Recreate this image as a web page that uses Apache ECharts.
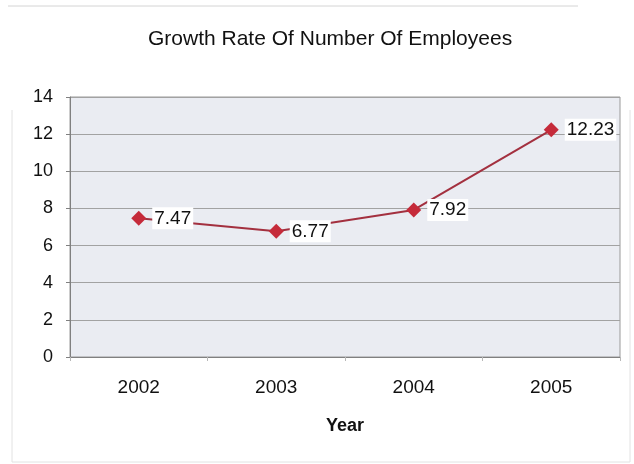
<!DOCTYPE html>
<html>
<head>
<meta charset="utf-8">
<script src="https://cdn.jsdelivr.net/npm/echarts@6/dist/echarts.min.js"></script>
<style>
  html, body { margin: 0; padding: 0; background: #ffffff; }
  #chart { width: 634px; height: 464px; }
</style>
</head>
<body>
<div id="chart"></div>
<script>
// Employee headcount growth rate by year (%)
const years = ['2002', '2003', '2004', '2005'];
const growthRate = [7.47, 6.77, 7.92, 12.23];
const yTicks = { min: 0, max: 14, interval: 2 };

const chart = echarts.init(document.getElementById('chart'), null, { renderer: 'canvas' });

const frame = { stroke: '#e2e2e2', lineWidth: 1 };

chart.setOption({
  backgroundColor: '#ffffff',
  animation: false,
  textStyle: { fontFamily: 'Liberation Sans, Arial, sans-serif' },
  title: {
    text: 'Growth Rate Of Number Of Employees',
    left: 143,
    top: 24,
    textStyle: { fontSize: 21, fontWeight: 'normal', color: '#111111' }
  },
  graphic: [
    { type: 'line', shape: { x1: 8, y1: 6, x2: 578, y2: 6 }, style: { stroke: '#d4d4d4', lineWidth: 1 }, silent: true },
    { type: 'line', shape: { x1: 12, y1: 110, x2: 12, y2: 462 }, style: frame, silent: true },
    { type: 'line', shape: { x1: 630, y1: 110, x2: 630, y2: 462 }, style: frame, silent: true },
    { type: 'line', shape: { x1: 12, y1: 462, x2: 630, y2: 462 }, style: frame, silent: true }
  ],
  grid: {
    left: 70, right: 14, top: 97, bottom: 107,
    show: true,
    backgroundColor: '#eaecf2',
    borderColor: '#9a9a9a',
    borderWidth: 1
  },
  xAxis: {
    type: 'category',
    data: years,
    boundaryGap: true,
    name: 'Year',
    nameLocation: 'middle',
    nameGap: 60,
    nameTextStyle: { fontSize: 18, fontWeight: 'bold', color: '#111111', verticalAlign: 'top' },
    axisLine: { lineStyle: { color: '#808080' } },
    axisTick: { show: true, length: 4, lineStyle: { color: '#b8b8b8' } },
    axisLabel: { fontSize: 19, color: '#111111', margin: 21 }
  },
  yAxis: {
    type: 'value',
    min: yTicks.min,
    max: yTicks.max,
    interval: yTicks.interval,
    axisLine: { show: true, lineStyle: { color: '#808080' } },
    axisTick: { show: true, length: 4, lineStyle: { color: '#808080' } },
    axisLabel: { fontSize: 18, color: '#111111', margin: 17 },
    splitLine: { show: true, lineStyle: { color: '#a2a2a2', width: 1 } }
  },
  series: [{
    type: 'line',
    data: growthRate,
    symbol: 'diamond',
    symbolSize: 15,
    itemStyle: { color: '#c52a3a' },
    lineStyle: { color: '#a3303f', width: 2 },
    label: {
      show: true,
      position: 'right',
      distance: 6,
      fontSize: 19,
      color: '#111111',
      backgroundColor: '#ffffff',
      padding: [2, 2, 1, 2],
      formatter: p => p.value.toFixed(2)
    }
  }]
});
</script>
</body>
</html>
